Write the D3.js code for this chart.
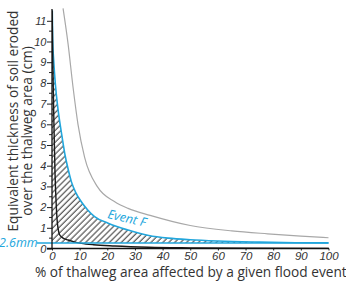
<!DOCTYPE html>
<html>
<head>
  <meta charset="utf-8">
  <title>Eroded soil thickness</title>
  <script src="https://d3js.org/d3.v7.min.js"></script>
  <style>
    body { margin: 0; background: #fff; }
    svg { display: block; font-family: "Open Sans", "Noto Sans", sans-serif; }
  </style>
</head>
<body>
  <div id="chart"></div>
  <script>
    // values (x in %, y in cm)
    var xTicks = [0, 10, 20, 30, 40, 50, 60, 70, 80, 90, 100];
    var yTicks = [0, 1, 2, 3, 4, 5, 6, 7, 8, 9, 10, 11];

    var eventFx = [0.1, 0.25, 0.6, 1.0, 1.6, 2.2, 3.4, 4.6, 5.8, 7.0, 8.6, 10.6, 13, 15.4, 20.3, 27.5, 35, 42, 50, 60, 75, 88, 100];
    var eventFy = [11.5, 10.1, 9.1, 8.3, 7.4, 6.7, 5.6, 4.6, 3.85, 3.23, 2.7, 2.26, 1.85, 1.54, 1.22, 0.89, 0.63, 0.5, 0.42, 0.36, 0.31, 0.28, 0.27];

    var grayX = [4.0, 5.8, 7.6, 9.4, 11.8, 16.6, 22.7, 27.5, 35.5, 50, 65, 78, 90, 100];
    var grayY = [11.6, 9.9, 7.8, 6.0, 4.4, 2.95, 2.26, 1.94, 1.6, 1.11, 0.85, 0.71, 0.6, 0.52];

    var blackX = [0.05, 0.3, 0.7, 1.1, 1.5, 1.9, 2.8, 4, 5.8, 8, 10.6, 15, 22.7, 35, 50, 70, 100];
    var blackY = [11.5, 9, 6, 3.6, 2.2, 1.3, 0.65, 0.5, 0.41, 0.32, 0.25, 0.18, 0.12, 0.06, 0.03, 0.01, 0.005];

    var threshold = 0.26; // 2.6 mm

    var width = 346, height = 282;
    var blue = "#22a6dc";

    var x = d3.scaleLinear().domain([0, 100]).range([52, 328.5]);
    var y = d3.scaleLinear().domain([0, 11]).range([248.5, 20.8]);

    var svg = d3.select("#chart").append("svg")
      .attr("width", width)
      .attr("height", height);

    // hatch pattern
    var defs = svg.append("defs");
    defs.append("pattern")
      .attr("id", "hatch")
      .attr("patternUnits", "userSpaceOnUse")
      .attr("width", 4.2)
      .attr("height", 4.2)
      .attr("patternTransform", "rotate(45)")
      .append("line")
      .attr("x1", 1).attr("y1", 0)
      .attr("x2", 1).attr("y2", 4.2)
      .attr("stroke", "#444")
      .attr("stroke-width", 1.1);

    defs.append("clipPath").attr("id", "plotclip")
      .append("rect")
      .attr("x", x(0)).attr("y", 8)
      .attr("width", x(100) - x(0) + 2)
      .attr("height", y(0) - 8);

    var toPts = (xs, ys) => xs.map((d, i) => [d, ys[i]]);
    var eventF = toPts(eventFx, eventFy);
    var gray = toPts(grayX, grayY);
    var black = toPts(blackX, blackY);

    var line = d3.line()
      .x(d => x(d[0]))
      .y(d => y(d[1]))
      .curve(d3.curveMonotoneX);

    var g = svg.append("g").attr("clip-path", "url(#plotclip)");

    // hatched area between Event F and the 2.6 mm line
    var area = d3.area()
      .x(d => x(d[0]))
      .y0(y(threshold))
      .y1(d => y(Math.max(d[1], threshold)))
      .curve(d3.curveMonotoneX);
    g.append("path")
      .datum([[0, eventFy[0]]].concat(eventF))
      .attr("d", area)
      .attr("fill", "url(#hatch)");

    // 2.6 mm line
    svg.append("line")
      .attr("x1", 37).attr("x2", x(100))
      .attr("y1", y(threshold)).attr("y2", y(threshold))
      .attr("stroke", blue)
      .attr("stroke-width", 1.5);

    g.append("path").datum(gray).attr("d", line)
      .attr("fill", "none").attr("stroke", "#a8a8a8").attr("stroke-width", 1.2);
    g.append("path").datum(eventF).attr("d", line)
      .attr("fill", "none").attr("stroke", blue).attr("stroke-width", 1.6);
    g.append("path").datum(black).attr("d", line)
      .attr("fill", "none").attr("stroke", "#1a1a1a").attr("stroke-width", 1.4);

    // y axis
    var yAxis = svg.append("g").attr("transform", "translate(" + x(0) + ",0)")
      .call(d3.axisLeft(y).tickValues(yTicks).tickSize(5).tickPadding(1).tickFormat(d3.format("d")));
    yAxis.select(".domain").remove();
    yAxis.selectAll("text")
      .attr("font-size", 11)
      .attr("font-style", "italic")
      .attr("letter-spacing", -0.3)
      .attr("fill", "#333");
    yAxis.selectAll("line").attr("stroke", "#222");
    svg.append("g").selectAll("line")
      .data(d3.range(0.5, 11.5, 1))
      .join("line")
      .attr("x1", x(0) - 3).attr("x2", x(0))
      .attr("y1", d => y(d)).attr("y2", d => y(d))
      .attr("stroke", "#222");
    svg.append("line")
      .attr("x1", x(0)).attr("x2", x(0))
      .attr("y1", 9).attr("y2", y(0))
      .attr("stroke", "#111").attr("stroke-width", 1.3);

    // x axis
    var xAxis = svg.append("g").attr("transform", "translate(0," + y(0) + ")")
      .call(d3.axisBottom(x).tickValues(xTicks).tickSize(2).tickPadding(1));
    xAxis.select(".domain").remove();
    xAxis.selectAll("text")
      .attr("font-size", 11.5)
      .attr("font-style", "italic")
      .attr("fill", "#333");
    xAxis.selectAll("line").attr("stroke", "#222");
    svg.append("line")
      .attr("x1", x(0) - 5).attr("x2", x(100) + 0.5)
      .attr("y1", y(0)).attr("y2", y(0))
      .attr("stroke", "#111").attr("stroke-width", 1.3);

    // labels
    svg.append("text")
      .attr("x", -1).attr("y", y(threshold) + 4)
      .attr("font-size", 12.5)
      .attr("font-style", "italic")
      .attr("fill", blue)
      .text("2.6mm");

    svg.append("text")
      .attr("transform", "translate(107,218) rotate(13)")
      .attr("font-size", 12.5)
      .attr("font-style", "italic")
      .attr("fill", blue)
      .text("Event F");

    svg.append("text")
      .attr("x", 35).attr("y", 277)
      .attr("font-size", 13.7)
      .attr("fill", "#333")
      .text("% of thalweg area affected by a given flood event");

    svg.append("text")
      .attr("transform", "translate(18,121) rotate(-90)")
      .attr("text-anchor", "middle")
      .attr("font-size", 13.7)
      .attr("fill", "#333")
      .text("Equivalent thickness of soil eroded");
    svg.append("text")
      .attr("transform", "translate(32,131) rotate(-90)")
      .attr("text-anchor", "middle")
      .attr("font-size", 13.7)
      .attr("fill", "#333")
      .text("over the thalweg area (cm)");
  </script>
</body>
</html>
